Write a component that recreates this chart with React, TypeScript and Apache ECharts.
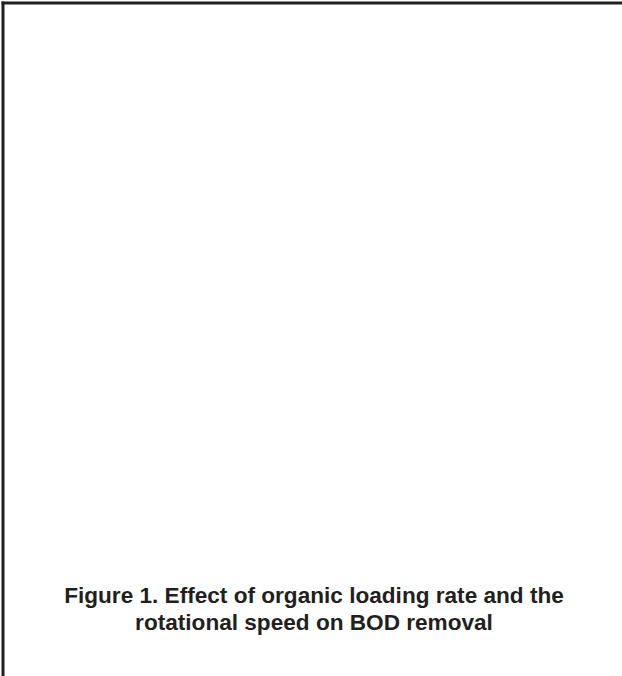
import React, { useEffect, useRef } from "react";
import * as echarts from "echarts";

const captionLines = [
  "Figure 1. Effect of organic loading rate and the",
  "rotational speed on BOD removal",
];

export default function App() {
  const ref = useRef<HTMLDivElement>(null);
  useEffect(() => {
    document.body.style.margin = "0";
    const chart = echarts.init(ref.current!, null, { renderer: "svg" });
    chart.setOption({
      animation: false,
      backgroundColor: "#ffffff",
      graphic: [
        {
          type: "line",
          shape: { x1: 3, y1: 1.5, x2: 3, y2: 676 },
          style: { stroke: "#231f20", lineWidth: 3 },
        },
        {
          type: "line",
          shape: { x1: 1.5, y1: 3, x2: 622, y2: 3 },
          style: { stroke: "#231f20", lineWidth: 3 },
        },
        ...captionLines.map((t, i) => ({
          type: "text",
          x: 314,
          y: 595.5 + i * 26.5,
          style: {
            text: t,
            fill: "#231f20",
            font: "bold 22.6px 'Liberation Sans', Arial, sans-serif",
            textAlign: "center",
            textVerticalAlign: "middle",
          },
        })),
      ],
    });
    return () => chart.dispose();
  }, []);
  return <div ref={ref} style={{ width: 622, height: 676 }} />;
}
